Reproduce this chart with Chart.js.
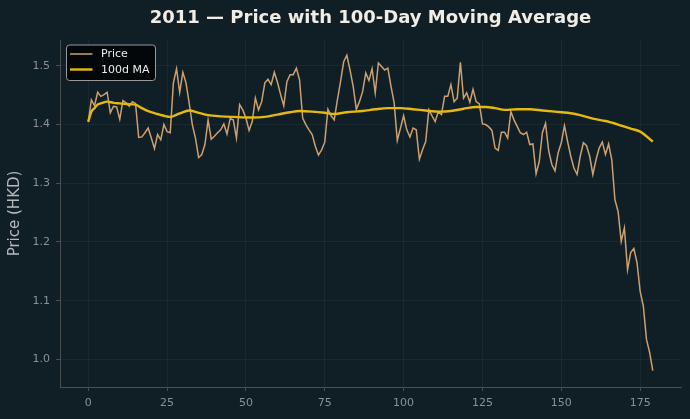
<!DOCTYPE html>
<html>
<head>
<meta charset="utf-8">
<script src="https://cdn.jsdelivr.net/npm/chart.js@4/dist/chart.umd.min.js"></script>
<style>
  html, body { margin: 0; padding: 0; background: #101f26; }
  #wrap { width: 690px; height: 419px; position: relative; }
</style>
</head>
<body>
<div id="wrap"><canvas id="c" width="690" height="419"></canvas></div>
<script>
// ---- Data ----
const titleText = "2011 — Price with 100-Day Moving Average";
const yAxisLabel = "Price (HKD)";
const seriesNames = ["Price", "100d MA"];

// Daily closing price, trading-day index 0..179
const priceValues = [
  1.404, 1.442, 1.432, 1.455, 1.448, 1.451, 1.455, 1.420, 1.431, 1.430,
  1.409, 1.441, 1.437, 1.431, 1.439, 1.436, 1.378, 1.379, 1.386, 1.394,
  1.377, 1.359, 1.383, 1.374, 1.400, 1.388, 1.386, 1.471, 1.495, 1.455,
  1.489, 1.471, 1.437, 1.400, 1.377, 1.344, 1.349, 1.366, 1.408, 1.375,
  1.380, 1.386, 1.391, 1.401, 1.384, 1.410, 1.408, 1.377, 1.434, 1.425,
  1.411, 1.390, 1.405, 1.445, 1.425, 1.439, 1.471, 1.477, 1.468, 1.489,
  1.472, 1.451, 1.432, 1.473, 1.485, 1.485, 1.496, 1.476, 1.411, 1.400,
  1.391, 1.383, 1.363, 1.348, 1.357, 1.370, 1.426, 1.415, 1.408, 1.442,
  1.473, 1.507, 1.518, 1.493, 1.465, 1.426, 1.439, 1.456, 1.488, 1.475,
  1.495, 1.454, 1.505, 1.499, 1.493, 1.496, 1.465, 1.437, 1.373, 1.394,
  1.415, 1.391, 1.379, 1.394, 1.391, 1.341, 1.357, 1.371, 1.425, 1.415,
  1.405, 1.422, 1.417, 1.448, 1.448, 1.468, 1.439, 1.445, 1.506, 1.445,
  1.454, 1.438, 1.460, 1.439, 1.435, 1.401, 1.400, 1.396, 1.390, 1.360,
  1.356, 1.387, 1.387, 1.377, 1.422, 1.408, 1.397, 1.386, 1.383, 1.387,
  1.366, 1.367, 1.316, 1.337, 1.386, 1.402, 1.355, 1.332, 1.321, 1.352,
  1.369, 1.398, 1.371, 1.346, 1.326, 1.315, 1.346, 1.369, 1.364, 1.346,
  1.315, 1.340, 1.360, 1.370, 1.349, 1.367, 1.340, 1.272, 1.252, 1.201,
  1.224, 1.153, 1.182, 1.189, 1.165, 1.116, 1.091, 1.034, 1.012, 0.981
];

// 100-day moving average, read at these day indices
const maDays = [0, 1, 2, 3, 4, 6, 8, 10, 12, 15, 17, 19, 22, 24, 26, 29, 32, 35, 38, 42,
  46, 52, 56, 60, 64, 67, 71, 75, 78, 82, 87, 91, 95, 99, 103, 107, 111, 115, 119, 123,
  126, 129, 132, 136, 140, 144, 148, 152, 156, 160, 164, 168, 172, 175, 177, 179];
const maValues = [1.405, 1.422, 1.428, 1.434, 1.436, 1.439, 1.437, 1.436, 1.435, 1.434,
  1.428, 1.423, 1.418, 1.415, 1.413, 1.419, 1.424, 1.420, 1.416, 1.414,
  1.413, 1.412, 1.413, 1.417, 1.421, 1.423, 1.422, 1.420, 1.418, 1.421,
  1.423, 1.426, 1.428, 1.428, 1.426, 1.424, 1.422, 1.423, 1.427, 1.430,
  1.430, 1.428, 1.425, 1.426, 1.426, 1.424, 1.422, 1.420, 1.416, 1.410,
  1.406, 1.400, 1.393, 1.388, 1.380, 1.371];

const xTicks = [0, 25, 50, 75, 100, 125, 150, 175];
const yTicks = [1.0, 1.1, 1.2, 1.3, 1.4, 1.5];

// ---- Styling ----
const BG = "#101f26";
const PRICE_COLOR = "#cca070";
const MA_COLOR = "#e3b912";
const TICK_COLOR = "#8a9096";
const SPINE_COLOR = "#4a4f52";
const GRID_COLOR = "rgba(255,255,255,0.045)";
const FONT = "'DejaVu Sans', sans-serif";

const bgPlugin = {
  id: "bg",
  beforeDraw(chart) {
    const ctx = chart.ctx;
    ctx.save();
    ctx.fillStyle = BG;
    ctx.fillRect(0, 0, chart.width, chart.height);
    ctx.restore();
  }
};

const legendPlugin = {
  id: "innerLegend",
  afterDatasetsDraw(chart) {
    const ctx = chart.ctx;
    const a = chart.chartArea;
    const x = a.left + 6.5, y = a.top + 5, w = 89, h = 35.5, r = 3;
    ctx.save();
    ctx.beginPath();
    ctx.moveTo(x + r, y);
    ctx.arcTo(x + w, y, x + w, y + h, r);
    ctx.arcTo(x + w, y + h, x, y + h, r);
    ctx.arcTo(x, y + h, x, y, r);
    ctx.arcTo(x, y, x + w, y, r);
    ctx.closePath();
    ctx.fillStyle = "rgba(3,5,6,0.92)";
    ctx.fill();
    ctx.strokeStyle = "#9a9a9a";
    ctx.lineWidth = 1;
    ctx.stroke();
    const items = [
      { label: seriesNames[0], color: PRICE_COLOR, lw: 1.5 },
      { label: seriesNames[1], color: MA_COLOR, lw: 2.4 }
    ];
    ctx.font = "11px " + FONT;
    ctx.textBaseline = "middle";
    items.forEach((it, i) => {
      const cy = y + 9 + i * 15.5;
      ctx.beginPath();
      ctx.moveTo(x + 3.5, cy);
      ctx.lineTo(x + 26, cy);
      ctx.strokeStyle = it.color;
      ctx.lineWidth = it.lw;
      ctx.stroke();
      ctx.fillStyle = "#ececec";
      ctx.fillText(it.label, x + 34.5, cy + 0.5);
    });
    ctx.restore();
  }
};

const pricePoints = priceValues.map((v, i) => ({ x: i, y: v }));
const maPoints = maDays.map((d, i) => ({ x: d, y: maValues[i] }));

new Chart(document.getElementById("c"), {
  type: "line",
  data: {
    datasets: [
      {
        label: seriesNames[0],
        data: pricePoints,
        borderColor: PRICE_COLOR,
        borderWidth: 1.5,
        pointRadius: 0,
        tension: 0,
        order: 2
      },
      {
        label: seriesNames[1],
        data: maPoints,
        borderColor: MA_COLOR,
        borderWidth: 2.4,
        pointRadius: 0,
        cubicInterpolationMode: "monotone",
        order: 1
      }
    ]
  },
  options: {
    responsive: false,
    animation: false,
    devicePixelRatio: 1,
    layout: { padding: { left: 0, right: 9, top: 0, bottom: 0 } },
    plugins: {
      legend: { display: false },
      tooltip: { enabled: false },
      title: {
        display: true,
        text: titleText,
        fullSize: false,
        color: "#f2ede4",
        font: { family: FONT, size: 18, weight: "bold" },
        padding: { top: 7.5, bottom: 10.9 }
      }
    },
    scales: {
      x: {
        type: "linear",
        min: -8.95,
        max: 187.95,
        afterBuildTicks(axis) { axis.ticks = xTicks.map(v => ({ value: v })); },
        afterFit(axis) { axis.height = 32; },
        grid: { color: GRID_COLOR, tickColor: SPINE_COLOR, tickLength: 4, lineWidth: 1 },
        border: { color: SPINE_COLOR, width: 1 },
        ticks: { color: TICK_COLOR, font: { family: FONT, size: 11 }, padding: 6, maxRotation: 0 }
      },
      y: {
        type: "linear",
        min: 0.953,
        max: 1.544,
        afterBuildTicks(axis) { axis.ticks = yTicks.map(v => ({ value: v })); },
        afterFit(axis) { axis.width = 60; },
        grid: { color: GRID_COLOR, tickColor: SPINE_COLOR, tickLength: 4, lineWidth: 1 },
        border: { color: SPINE_COLOR, width: 1 },
        ticks: {
          color: TICK_COLOR,
          font: { family: FONT, size: 11 },
          padding: 6,
          callback: v => Number(v).toFixed(1)
        },
        title: {
          display: true,
          text: yAxisLabel,
          color: "#b4b8bc",
          font: { family: FONT, size: 15 },
          padding: { top: 6, bottom: 4 }
        }
      }
    }
  },
  plugins: [bgPlugin, legendPlugin]
});
</script>
</body>
</html>
